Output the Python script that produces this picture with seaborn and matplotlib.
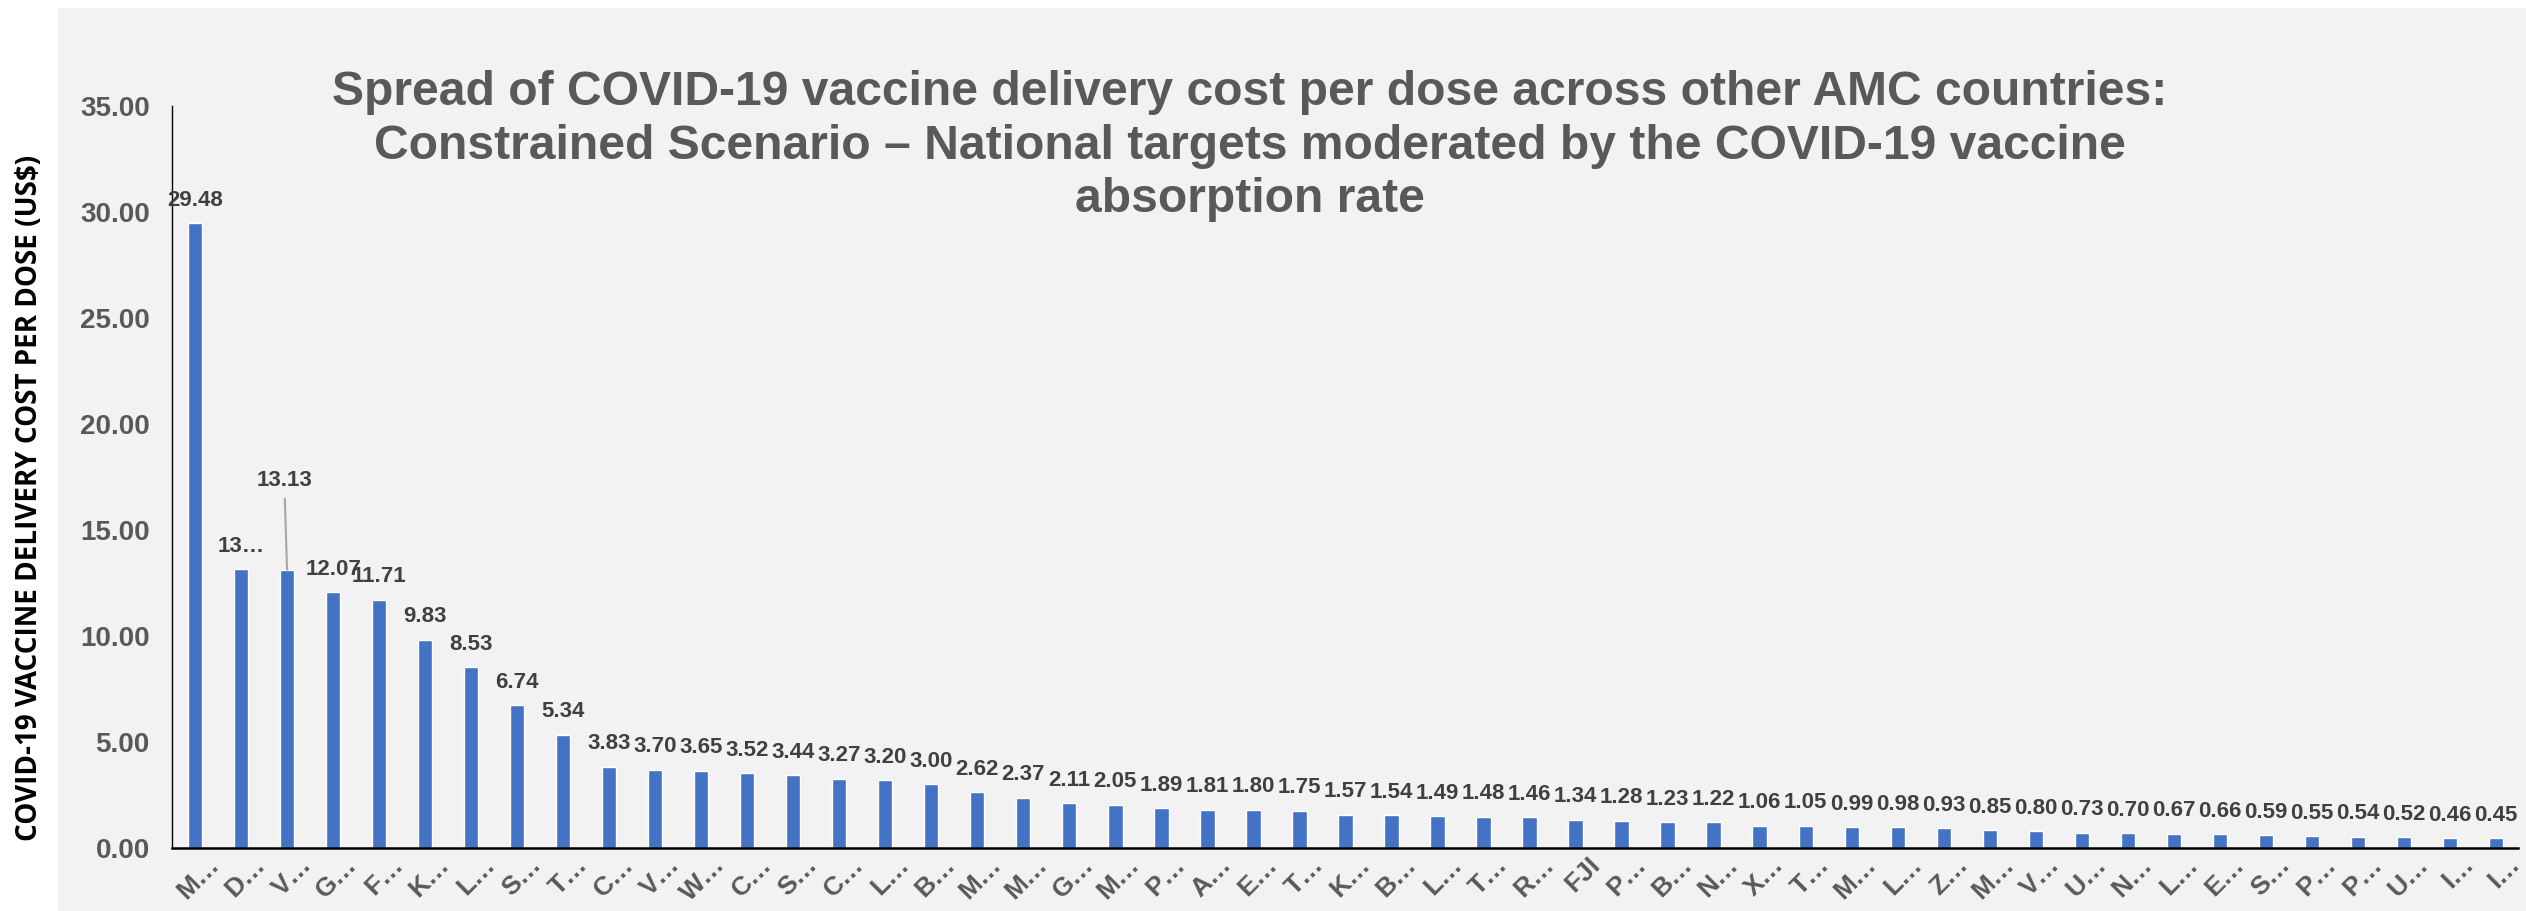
import matplotlib
matplotlib.use("Agg")
import matplotlib.pyplot as plt
import matplotlib.transforms as mtransforms
from matplotlib.patches import Rectangle
import pandas as pd
import seaborn as sns

# Delivery cost per dose (US$) for each AMC country, sorted high to low
country_labels = [
    "M…", "D…", "V…", "G…", "F…", "K…", "L…", "S…", "T…", "C…",
    "V…", "W…", "C…", "S…", "C…", "L…", "B…", "M…", "M…", "G…",
    "M…", "P…", "A…", "E…", "T…", "K…", "B…", "L…", "T…", "R…",
    "FJI", "P…", "B…", "N…", "X…", "T…", "M…", "L…", "Z…", "M…",
    "V…", "U…", "N…", "L…", "E…", "S…", "P…", "P…", "U…", "I…",
    "I…",
]
cost_per_dose = [
    29.48, 13.16, 13.13, 12.07, 11.71, 9.83, 8.53, 6.74, 5.34, 3.83,
    3.70, 3.65, 3.52, 3.44, 3.27, 3.20, 3.00, 2.62, 2.37, 2.11,
    2.05, 1.89, 1.81, 1.80, 1.75, 1.57, 1.54, 1.49, 1.48, 1.46,
    1.34, 1.28, 1.23, 1.22, 1.06, 1.05, 0.99, 0.98, 0.93, 0.85,
    0.80, 0.73, 0.70, 0.67, 0.66, 0.59, 0.55, 0.54, 0.52, 0.46,
    0.45,
]
y_ticks = [0, 5, 10, 15, 20, 25, 30, 35]
truncated_label_idx = [1]   # value label cut short to "13…"
callout_label_idx = [2]     # value label lifted above with a leader line

title = ("Spread of COVID-19 vaccine delivery cost per dose across other AMC countries:\n"
         "Constrained Scenario – National targets moderated by the COVID-19 vaccine\n"
         "absorption rate")
y_label = "COVID-19 VACCINE DELIVERY COST PER DOSE (US$)"

BAR = "#4472C4"
TICK_GREY = "#595959"
LABEL_GREY = "#404040"
BG = "#F2F2F2"
SANS = ["Liberation Sans", "DejaVu Sans"]

sns.set_style("white")
plt.rcParams["font.family"] = SANS

df = pd.DataFrame({"rank": range(len(cost_per_dose)), "cost": cost_per_dose})

W, H = 2526, 911
fig = plt.figure(figsize=(W / 100, H / 100), dpi=100, facecolor="white")
fig.add_artist(Rectangle((58 / W, 0), 1 - 58 / W, (H - 8) / H,
                         transform=fig.transFigure, facecolor=BG,
                         edgecolor="none", zorder=-10))

ax = fig.add_axes([172 / W, (H - 848) / H, (2518 - 172) / W, (848 - 106) / H])
ax.set_facecolor("none")

sns.barplot(data=df, x="rank", y="cost", color=BAR, saturation=1,
            width=0.31, ax=ax, errorbar=None)

ax.set_xlim(-0.5, 50.48)
ax.set_ylim(0, 35)
ax.set_yticks(y_ticks)
ax.set_yticklabels([f"{t:.2f}" for t in y_ticks], fontsize=20,
                   fontweight="bold", color=TICK_GREY)
ax.tick_params(axis="y", length=0, pad=16)
ax.tick_params(axis="x", length=0, pad=3)

ax.set_xticks(range(len(country_labels)))
ax.set_xticklabels(country_labels, rotation=45, ha="right", va="top",
                   rotation_mode="anchor", fontsize=19, fontweight="bold",
                   color=TICK_GREY)
shift = mtransforms.ScaledTranslation(12 / 100, 0, fig.dpi_scale_trans)
for lbl in ax.get_xticklabels():
    lbl.set_transform(lbl.get_transform() + shift)

ax.set_xlabel("")
ax.set_ylabel("")
for side in ("top", "right"):
    ax.spines[side].set_visible(False)
ax.spines["left"].set_color("black")
ax.spines["left"].set_linewidth(1.0)
ax.spines["bottom"].set_color("black")
ax.spines["bottom"].set_linewidth(1.8)

# value labels above the bars
for i, v in enumerate(cost_per_dose):
    text = f"{v:.2f}"
    if i in truncated_label_idx:
        text = text[:2] + "…"
    if i in callout_label_idx:
        ax.annotate(text, (i, v), xytext=(-2, 64), textcoords="offset points",
                    ha="center", va="center", fontsize=16, fontweight="bold",
                    color=LABEL_GREY,
                    arrowprops=dict(arrowstyle="-", color="#A6A6A6", lw=1.5,
                                    shrinkA=3, shrinkB=0))
    else:
        ax.annotate(text, (i, v), xytext=(0, 16.5), textcoords="offset points",
                    ha="center", va="center", fontsize=16, fontweight="bold",
                    color=LABEL_GREY)

# title block: baseline of the last line sits at y = 212 px from the top
fig.text(1250 / W, (H - 212) / H, title, ha="center", va="baseline",
         fontsize=34.6, fontweight="bold", color=TICK_GREY, linespacing=1.24)

fig.text(30 / W, (H - 498) / H, y_label, rotation=90, ha="center", va="center",
         fontsize=20, fontweight="bold", color="black",
         family=["Open Sans", "DejaVu Sans"])

fig.savefig("out.png", dpi=100, facecolor="white")
